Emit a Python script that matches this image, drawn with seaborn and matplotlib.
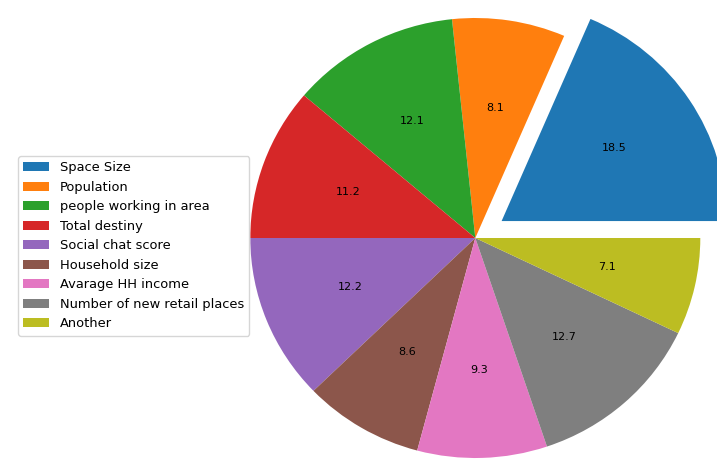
import matplotlib
matplotlib.use("Agg")
import matplotlib.pyplot as plt
import seaborn as sns

# Factor shares (percent) for the retail-site scoring model
factors = [
    "Space Size",
    "Population",
    "people working in area",
    "Total destiny",
    "Social chat score",
    "Household size",
    "Avarage HH income",
    "Number of new retail places",
    "Another",
]
shares = [18.5, 8.1, 12.1, 11.2, 12.2, 8.6, 9.3, 12.7, 7.1]
explode = [0.14, 0, 0, 0, 0, 0, 0, 0, 0]

sns.set_style("white")
plt.rcParams["text.color"] = "black"
colors = sns.color_palette("tab10", len(factors))

W, H, DPI = 717, 459, 100
fig = plt.figure(figsize=(W / DPI, H / DPI), dpi=DPI)
ax = fig.add_axes([0, 0, 1, 1])

wedges, texts, autotexts = ax.pie(
    shares,
    explode=explode,
    colors=colors,
    autopct="%.1f",
    startangle=0,
    pctdistance=0.6,
    wedgeprops={"linewidth": 0, "edgecolor": "none"},
    textprops={"fontsize": 8, "color": "black"},
)

# place the pie: centre at (475, 238) px, radius ~225 px horizontally, ~220 px vertically
cx, cy_top, rx, ry = 475.3, 238.0, 225.0, 220.0
ax.set_aspect("auto")
ax.set_xlim(-cx / rx, (W - cx) / rx)
ax.set_ylim(-(H - cy_top) / ry, cy_top / ry)
ax.set_axis_off()

fig.legend(
    wedges,
    factors,
    loc="upper left",
    bbox_to_anchor=(18 / W, 1 - 156 / H),
    borderaxespad=0,
    fontsize=9.4,
    labelspacing=0.5,
    frameon=True,
    labelcolor="black",
)

fig.savefig("out.png", dpi=DPI)
